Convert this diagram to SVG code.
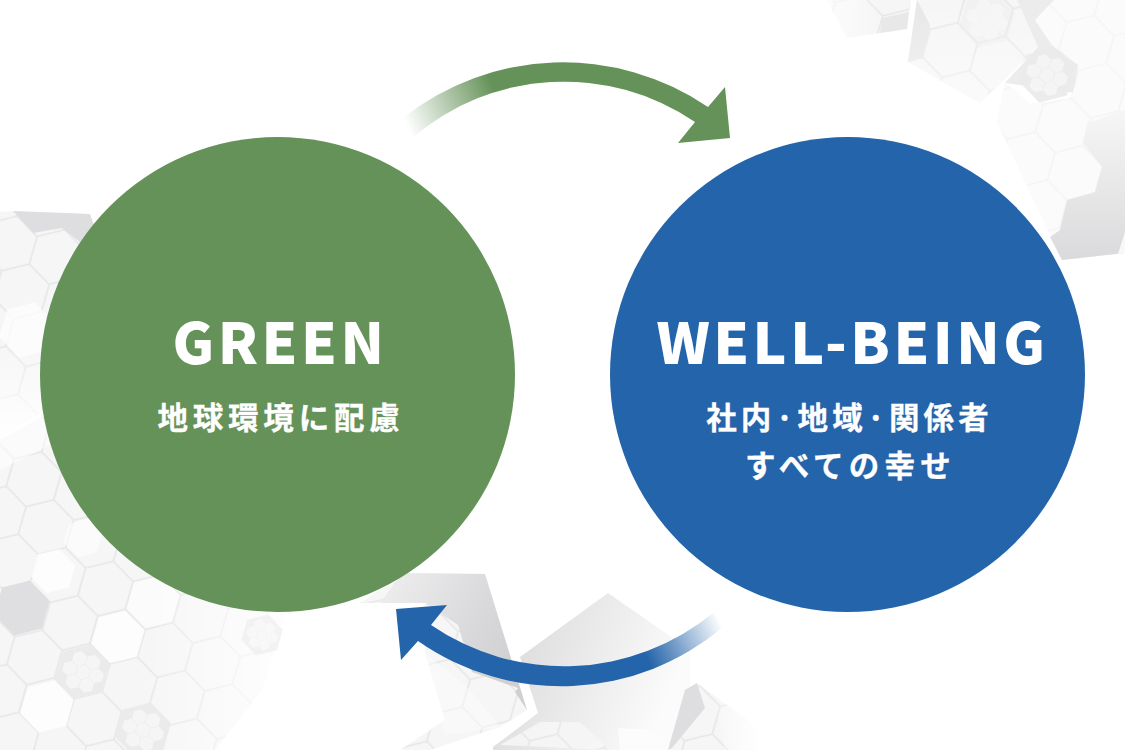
<svg xmlns="http://www.w3.org/2000/svg" width="1125" height="750" viewBox="0 0 1125 750">
<style>
.t{font-family:"Noto Sans CJK JP","Noto Sans",sans-serif;font-weight:700;fill:#fff;text-anchor:middle}
.h{font-size:57px;letter-spacing:3.5px;font-weight:900}
.s{font-size:30.5px;letter-spacing:4.8px;stroke:#fff;stroke-width:.3px}
</style>
<defs>
<path id="hx" d="M0,-28.5L24.7,-14.25V14.25L0,28.5L-24.7,14.25V-14.25Z"/>
<g id="cluster">
<use href="#hx" fill="#ebebec"/>
<g fill="#f5f5f6">
<use href="#hx" transform="scale(.27)"/>
<use href="#hx" transform="translate(14,0) scale(.27)"/>
<use href="#hx" transform="translate(-14,0) scale(.27)"/>
<use href="#hx" transform="translate(7,12) scale(.27)"/>
<use href="#hx" transform="translate(-7,12) scale(.27)"/>
<use href="#hx" transform="translate(7,-12) scale(.27)"/>
<use href="#hx" transform="translate(-7,-12) scale(.27)"/>
</g>
</g>
<g id="cell"><rect width="49.4" height="85.56" fill="#f6f6f7"/><path d="M24.7,0V14.26L0,28.52V57.04L24.7,71.3V85.56M24.7,14.26L49.4,28.52V57.04L24.7,71.3" fill="none" stroke="#e6e6e7" stroke-width="1.5"/></g>
<pattern id="hexA" width="49.4" height="85.56" patternUnits="userSpaceOnUse" patternTransform="translate(70,623) rotate(15.9)"><use href="#cell"/></pattern>
<pattern id="hexB" width="49.4" height="85.56" patternUnits="userSpaceOnUse" patternTransform="translate(950,50) rotate(15.9)"><use href="#cell"/></pattern>
<pattern id="hexC" width="49.4" height="85.56" patternUnits="userSpaceOnUse" patternTransform="translate(1075,173) rotate(15.9)"><use href="#cell"/></pattern>
<pattern id="hexD" width="49.4" height="85.56" patternUnits="userSpaceOnUse" patternTransform="translate(490,700) rotate(15.9)"><use href="#cell"/></pattern>
<pattern id="hexE" width="49.4" height="85.56" patternUnits="userSpaceOnUse" patternTransform="translate(740,727) rotate(15.9)"><use href="#cell"/></pattern>
<pattern id="hexF" width="49.4" height="85.56" patternUnits="userSpaceOnUse" patternTransform="translate(57,257) rotate(15.9)"><use href="#cell"/></pattern>
<linearGradient id="fadeR" x1="0" y1="0" x2="1" y2="0"><stop offset="0" stop-color="#fff" stop-opacity="0"/><stop offset="1" stop-color="#fff"/></linearGradient>
<linearGradient id="fadeL" x1="1" y1="0" x2="0" y2="0"><stop offset="0" stop-color="#fff" stop-opacity="0"/><stop offset="1" stop-color="#fff"/></linearGradient>
<linearGradient id="fadeD" x1="0" y1="0" x2="0" y2="1"><stop offset="0" stop-color="#fff" stop-opacity="0"/><stop offset="1" stop-color="#fff"/></linearGradient>
<linearGradient id="dk1" x1="0" y1="0" x2="1" y2=".5"><stop offset="0" stop-color="#efeff0"/><stop offset=".7" stop-color="#d8d8da"/><stop offset="1" stop-color="#d0d0d2"/></linearGradient>
<linearGradient id="dk2" x1="0" y1="0" x2="1" y2=".3"><stop offset="0" stop-color="#d6d6d8"/><stop offset="1" stop-color="#fbfbfb"/></linearGradient>
<linearGradient id="dk3" x1="0" y1="0" x2="0" y2="1"><stop offset="0" stop-color="#f6f6f6"/><stop offset="1" stop-color="#dadadc"/></linearGradient>
<linearGradient id="gArrow" gradientUnits="userSpaceOnUse" x1="408" y1="128" x2="495" y2="90"><stop offset="0" stop-color="#659259" stop-opacity="0"/><stop offset="1" stop-color="#659259"/></linearGradient>
<linearGradient id="bArrow" gradientUnits="userSpaceOnUse" x1="720" y1="620" x2="645" y2="655"><stop offset="0" stop-color="#2364AA" stop-opacity="0"/><stop offset="1" stop-color="#2364AA"/></linearGradient>
</defs>
<rect id="paper" width="1125" height="750" fill="#fff"/>
<g id="background">
<!-- top right -->
<polygon points="827,0 847,38 907,29 911,0" fill="url(#hexB)"/>
<polygon points="827,0 847,38 880,33 880,0" fill="url(#fadeL)" opacity=".7"/>
<polygon points="880,33 907,29 909,12 882,18" fill="#e8e8e9"/>
<polygon points="917,0 908,62 980,103 1038,47 1017,0" fill="url(#hexB)"/>
<polygon points="917,0 908,62 923,58 930,25" fill="#e7e7e8"/>
<use href="#cluster" transform="translate(987,20) rotate(15.9)" opacity=".4"/>
<polygon points="917,0 908,62 980,103 1038,47 1017,0" fill="url(#fadeD)" opacity=".5"/>
<polygon points="1017,0 1038,47 1005,83 1125,100 1125,0" fill="#ececed"/>
<use href="#cluster" transform="translate(1047,75) rotate(15.9)" opacity=".9"/>
<polygon points="1035,20 1054,0 1125,0 1125,95 1070,100 1075,85 1078,65 1052,45" fill="url(#hexC)"/>
<polygon points="1035,20 1054,0 1125,0 1125,95 1070,100 1075,85 1078,65 1052,45" fill="#fff" opacity=".6"/>
<polygon points="1005,83 997,122 1062,260 1125,253 1125,90 1060,100 1030,104 1012,88" fill="url(#hexC)"/>
<polygon points="1005,83 997,122 1062,260 1125,253 1125,90 1060,100 1030,104 1012,88" fill="#fff" opacity=".55"/>
<polygon points="1125,110 1087,123 1083,143 1102,167 1095,192 1067,200 1060,230 1050,237 1062,260 1125,253" fill="url(#dk3)"/>
<polygon points="1125,232 1118,254 1125,253" fill="#f8f8f8"/>
<!-- left upper -->
<polygon points="0,212 13,211 90,214 110,300 60,400 0,440" fill="url(#hexF)"/>
<polygon points="13,211 90,214 95,228 80,242 62,228 33,233" fill="#dedee0"/>
<use href="#hx" transform="translate(27,330) rotate(15.9)" fill="#fff" opacity=".7"/>
<polygon points="0,340 60,340 60,440 0,440" fill="url(#fadeD)"/>
<!-- left lower -->
<polygon points="0,440 45,415 100,430 300,600 285,615 262,690 215,750 0,750" fill="url(#hexA)"/>
<polygon points="0,440 45,415 60,440 0,470" fill="#fff" opacity=".5"/>
<polygon points="170,560 290,560 290,700 220,750 140,750" fill="url(#fadeR)" opacity=".9"/>
<use href="#hx" transform="translate(22,608) rotate(15.9)" fill="#dfdfe1"/>
<use href="#hx" transform="translate(53,571) rotate(15.9) scale(.8)" fill="#fff" opacity=".75"/>
<use href="#hx" transform="translate(83,538) rotate(15.9) scale(.7)" fill="#fff" opacity=".55"/>
<use href="#hx" transform="translate(118,637) rotate(15.9) scale(.96)" fill="#fff" opacity=".8"/>
<use href="#hx" transform="translate(47,707) rotate(15.9) scale(.96)" fill="#fff" opacity=".8"/>
<use href="#hx" transform="translate(153,602) rotate(15.9) scale(.96)" fill="#fff" opacity=".6"/>
<use href="#cluster" transform="translate(83,672) rotate(15.9)"/>
<use href="#cluster" transform="translate(143,730) rotate(15.9)"/>
<use href="#cluster" transform="translate(262,635) rotate(15.9) scale(.75)" opacity=".55"/>
<!-- bottom middle -->
<polygon points="380,590 412,573 485,574 527,710 500,727 430,750 360,750 360,603" fill="url(#hexD)"/>
<polygon points="402,573 485,574 527,710 515,692 518,688 472,672 458,625 425,603 380,603" fill="url(#dk1)"/>
<polygon points="380,603 425,603 425,653 445,720 400,750 360,750 360,603" fill="#fff"/>
<polygon points="425,653 470,690 500,727 445,735" fill="#fff" opacity=".4"/>
<polygon points="520,657 608,593 690,650 690,750 493,750 493,747 538,713" fill="url(#dk2)"/>
<polygon points="500,745 540,722 580,722 610,750" fill="url(#hexD)" opacity=".9"/>
<polygon points="618,728 650,730 675,750 620,750" fill="#fcfcfc"/>
<polygon points="697,683 685,690 668,750 757,750 757,727" fill="url(#hexE)"/>
<polygon points="697,683 685,690 668,750 672,748 705,708" fill="#dedee0"/>
<polygon points="710,685 760,690 760,750 725,750" fill="url(#fadeR)"/>
</g>
<g id="connectors">
<path id="arrow-green" fill="url(#gArrow)" d="M403,118A257.6,257.6 0 0 1 708,107L725,87L730,138L678,143L695,122A233,233 0 0 0 412,138Z"/>
<path id="arrow-blue" fill="url(#bArrow)" d="M723,627A250,250 0 0 1 418,641L401,660L396,609L447,605L431,625A235,235 0 0 0 713,613Z"/>
</g>
<g id="node-green">
<circle cx="277.5" cy="374.5" r="237.5" fill="#659259"/>
<text class="t h" x="280" y="364">GREEN</text>
<text class="t s" x="281" y="429">地球環境に配慮</text>
</g>
<g id="node-wellbeing">
<circle cx="847.5" cy="374.5" r="237.5" fill="#2364AA"/>
<text class="t h" x="852.5" y="364">WELL-BEING</text>
<text class="t s" x="849.5" y="429" style="letter-spacing:4.1px">社内·地域·関係者</text>
<text class="t s" x="850.5" y="477" style="letter-spacing:5.2px">すべての幸せ</text>
</g>
</svg>
